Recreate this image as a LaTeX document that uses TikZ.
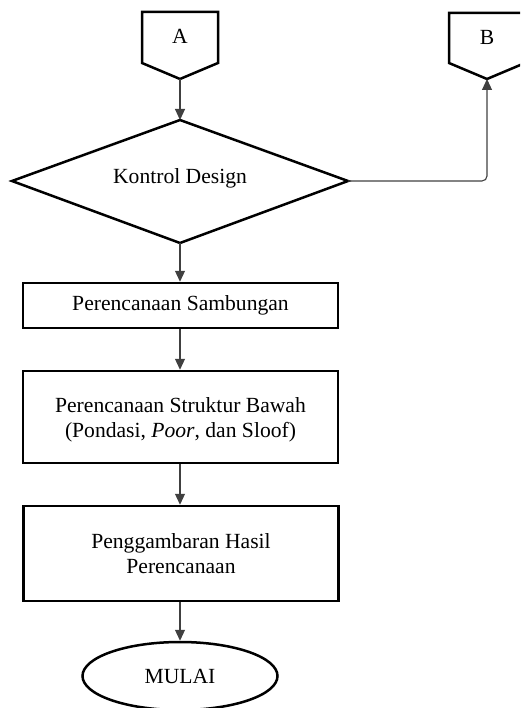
\documentclass[tikz,border=0pt]{standalone}
\usepackage{fontspec}
\setmainfont{Liberation Serif}
\usetikzlibrary{shapes.geometric,arrows.meta}
\begin{document}
\begin{tikzpicture}[x=1pt,y=-1pt,
  shapeline/.style={draw=black,line width=2.5pt,line join=miter},
  procbox/.style={shapeline,rectangle,minimum width=315pt,inner sep=0pt,align=center,
    font=\fontsize{21.6}{25.5}\selectfont},
  lbl/.style={font=\fontsize{21.6}{25.5}\selectfont,inner sep=0pt},
  conn/.style={draw=black!75,line width=1.1pt,-{Triangle[length=11pt,width=10pt]}}]
\useasboundingbox (0,0) rectangle (520,708);
\clip (0,0) rectangle (520,708);
% off-page connector A
\draw[shapeline] (142,12) -- (218,12) -- (218,63) -- (180,79) -- (142,63) -- cycle;
\coordinate (Atip) at (180,79);
\node[lbl] (A) at (180,36) {A};
% off-page connector B
\draw[shapeline] (449,13) -- (525,13) -- (525,63) -- (487,79) -- (449,63) -- cycle;
\coordinate (Btip) at (487,79);
\node[lbl] (B) at (487,37) {B};
% decision
\draw[shapeline] (180,120) -- (348,181) -- (180,243) -- (12,181) -- cycle;
\coordinate (Dtop) at (180,120);
\coordinate (Dright) at (348,181);
\coordinate (Dbot) at (180,243);
\node[lbl] (D) at (180,178) {Kontrol Design};
% process boxes
\node[procbox,minimum height=45pt] (P1) at (180.5,305.5) {Perencanaan Sambungan};
\node[procbox,minimum height=92pt] (P2) at (180.5,417) {};
\node[lbl,align=center] (P2t) at (180.5,420) {Perencanaan Struktur Bawah\\(Pondasi, \textit{Poor}, dan Sloof)};
\node[procbox,minimum height=95pt] (P3) at (181,553.5) {Penggambaran Hasil\\Perencanaan};
% terminator
\node[shapeline,ellipse,minimum width=195pt,minimum height=68pt,inner sep=0pt,
  font=\fontsize{21.6}{25.5}\selectfont] (M) at (180,676) {MULAI};
% connectors
\draw[conn] (Atip) -- (Dtop);
\draw[conn,rounded corners=5pt] (Dright) -- (Btip |- Dright) -- (Btip);
\draw[conn] (Dbot) -- (P1.north -| Dbot);
\draw[conn] (P1.south -| Dbot) -- (P2.north -| Dbot);
\draw[conn] (P2.south -| Dbot) -- (P3.north -| Dbot);
\draw[conn] (P3.south -| Dbot) -- (M.north);
\end{tikzpicture}
\end{document}
